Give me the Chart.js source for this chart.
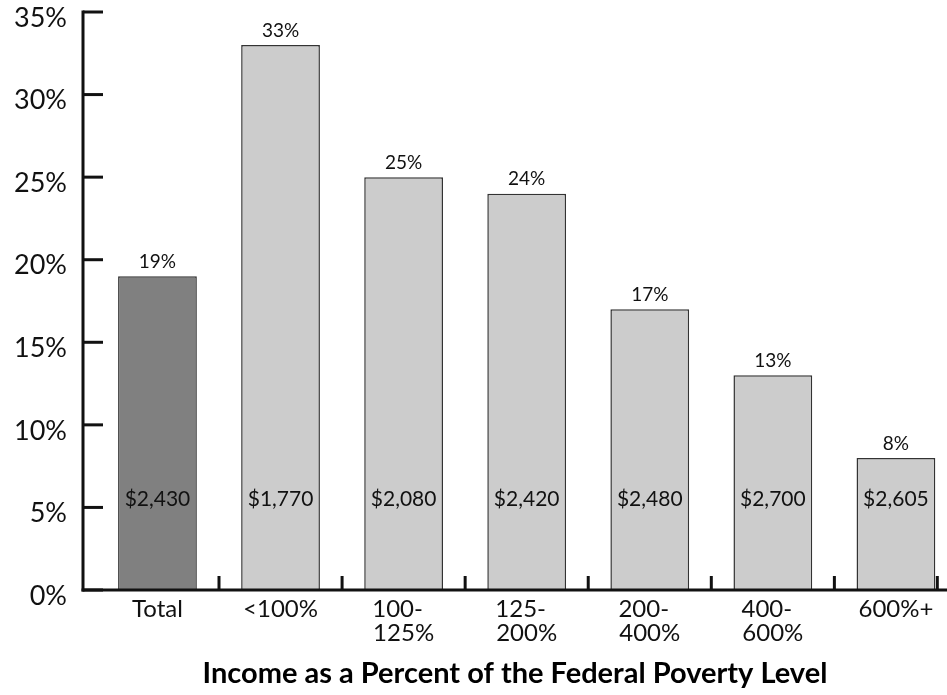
<!DOCTYPE html>
<html>
<head>
<meta charset="utf-8">
<script src="https://cdn.jsdelivr.net/npm/chart.js@4/dist/chart.umd.min.js"></script>
<style>
  html, body { margin: 0; padding: 0; background: #fff; }
  #wrap { width: 947px; height: 695px; position: relative; }
</style>
</head>
<body>
<div id="wrap"><canvas id="c" width="947" height="695"></canvas></div>
<script>
// Income groups (percent of the federal poverty level)
const categories = [
  ['Total'],
  ['<100%'],
  ['100-\u2002', '125%'],
  ['125-\u2002', '200%'],
  ['200-\u2002', '400%'],
  ['400-\u2002', '600%'],
  ['600%+']
];
// Share of each group (percent)
const shares = [19, 33, 25, 24, 17, 13, 8];
// Average amount for each group (dollars)
const amounts = [2430, 1770, 2080, 2420, 2480, 2700, 2605];
// Y axis tick values (percent)
const yTicks = [0, 5, 10, 15, 20, 25, 30, 35];

const FONT = 'Lato, "Open Sans", "DejaVu Sans", sans-serif';
const INK = '#111';

const fillColors = shares.map((_, i) => i === 0 ? '#808080' : '#cccccc');

// Axis lines, inward tick marks, and the bar labels
const decorPlugin = {
  id: 'decor',
  afterDatasetsDraw(chart) {
    const { ctx, chartArea: a, scales: { x, y } } = chart;
    ctx.save();
    ctx.strokeStyle = INK;
    ctx.lineCap = 'butt';

    // y axis line and tick marks pointing into the plot
    ctx.lineWidth = 3;
    ctx.beginPath();
    ctx.moveTo(a.left, y.getPixelForValue(35) - 1.5);
    ctx.lineTo(a.left, a.bottom + 1.5);
    ctx.stroke();
    yTicks.forEach(v => {
      const py = y.getPixelForValue(v);
      ctx.beginPath();
      ctx.moveTo(a.left, py);
      ctx.lineTo(a.left + 20, py);
      ctx.stroke();
    });

    // x axis line
    ctx.beginPath();
    ctx.moveTo(a.left - 1.5, a.bottom);
    ctx.lineTo(a.right, a.bottom);
    ctx.stroke();

    // separators between groups
    const meta = chart.getDatasetMeta(0);
    const seps = [];
    for (let i = 0; i < categories.length - 1; i++) {
      seps.push((x.getPixelForValue(i) + x.getPixelForValue(i + 1)) / 2);
    }
    const last = meta.data[meta.data.length - 1];
    seps.push(last.x + last.width / 2 + 2);
    seps.forEach(px => {
      ctx.beginPath();
      ctx.moveTo(px, a.bottom);
      ctx.lineTo(px, a.bottom - 14);
      ctx.stroke();
    });

    // value labels
    ctx.fillStyle = INK;
    ctx.textAlign = 'center';
    meta.data.forEach((bar, i) => {
      ctx.font = '19px ' + FONT;
      ctx.textBaseline = 'bottom';
      ctx.fillText(shares[i] + '%', bar.x, bar.y - 5);
      ctx.font = '21px ' + FONT;
      ctx.textBaseline = 'middle';
      ctx.fillText('$' + amounts[i].toLocaleString('en-US'), bar.x, y.getPixelForValue(5.5));
    });
    ctx.restore();
  }
};

new Chart(document.getElementById('c'), {
  type: 'bar',
  data: {
    datasets: [{
      data: shares.map((v, i) => ({ x: i, y: v })),
      backgroundColor: fillColors,
      borderColor: '#333',
      borderWidth: 1.5,
      barPercentage: 0.64,
      categoryPercentage: 1
    }]
  },
  options: {
    responsive: false,
    animation: false,
    devicePixelRatio: 1,
    layout: { padding: { top: 12, right: 0, left: 0, bottom: 0 } },
    plugins: {
      legend: { display: false },
      tooltip: { enabled: false }
    },
    scales: {
      x: {
        type: 'linear',
        offset: false,
        min: -0.605,
        max: 6.415,
        grid: { display: false, drawTicks: false, offset: false },
        border: { display: false },
        afterBuildTicks: s => { s.ticks = categories.map((_, i) => ({ value: i })); },
        afterFit: s => { s.height = 105; s.paddingLeft = 0; s.paddingRight = 0; },
        ticks: {
          autoSkip: false,
          maxRotation: 0,
          padding: 8,
          color: INK,
          font: { family: FONT, size: 24, lineHeight: 0.98 },
          callback: v => categories[v]
        },
        title: {
          display: true,
          text: 'Income as a Percent of the Federal Poverty Level',
          color: '#000',
          font: { family: FONT, size: 29, weight: 'bold' },
          padding: { top: 0, bottom: 4 }
        }
      },
      y: {
        min: 0,
        max: 35,
        grid: { display: false, drawTicks: false },
        border: { display: false },
        afterBuildTicks: s => { s.ticks = yTicks.map(v => ({ value: v })); },
        afterFit: s => { s.width = 83; s.paddingTop = 0; s.paddingBottom = 0; },
        ticks: {
          padding: 16,
          labelOffset: 6,
          color: INK,
          font: { family: FONT, size: 27 },
          callback: v => v + '%'
        }
      }
    }
  },
  plugins: [decorPlugin]
});
</script>
</body>
</html>
